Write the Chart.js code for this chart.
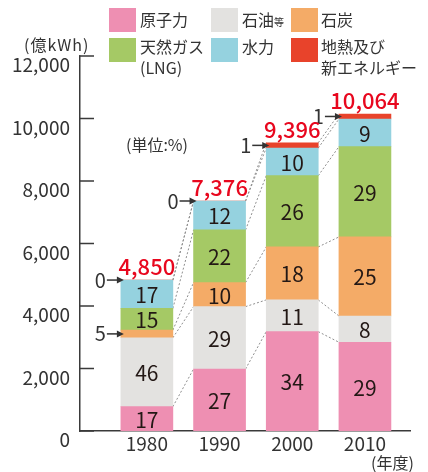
<!DOCTYPE html>
<html lang="ja">
<head>
<meta charset="UTF-8">
<title>発電電力量の推移</title>
<script src="https://cdn.jsdelivr.net/npm/chart.js"></script>
<style>
  body { margin: 0; background: #fff; font-family: "Noto Sans CJK JP", "Noto Sans", sans-serif; color: #333; }
  .wrap { position: relative; width: 428px; height: 472px; }
  .box { position: absolute; width: 27px; height: 24px; }
  .txt { position: absolute; font-size: 16px; line-height: 21px; white-space: nowrap; color: #333; }
  .small { font-size: 10px; }
</style>
</head>
<body>
<div class="wrap">
  <canvas id="chart" width="428" height="472"></canvas>

  <div class="box" style="left:109px; top:8px; background:#ee8fb2;"></div>
  <div class="txt" style="left:140px; top:9px;">原子力</div>
  <div class="box" style="left:211px; top:8px; background:#e3e2e0;"></div>
  <div class="txt" style="left:242px; top:9px;">石油<span class="small">等</span></div>
  <div class="box" style="left:291px; top:8px; background:#f4ab67;"></div>
  <div class="txt" style="left:321px; top:9px;">石炭</div>

  <div class="box" style="left:109px; top:38px; background:#a5c965;"></div>
  <div class="txt" style="left:140px; top:36px;">天然ガス<br>(LNG)</div>
  <div class="box" style="left:211px; top:38px; background:#95d2df;"></div>
  <div class="txt" style="left:242px; top:36px;">水力</div>
  <div class="box" style="left:291px; top:38px; background:#e8432b;"></div>
  <div class="txt" style="left:321px; top:36px;">地熱及び<br>新エネルギー</div>

  <div class="txt" style="left:24px; top:34px; letter-spacing:1px;">(億kWh)</div>
  <div class="txt" style="left:126px; top:134px;">(単位:%)</div>
  <div class="txt" style="left:371px; top:452px;">(年度)</div>
</div>

<script>
    // 年度と合計 (億kWh)
    const years = ['1980', '1990', '2000', '2010'];
    const totals = [4850, 7376, 9396, 10064];

    // 棒の高さ (億kWh, 図から読み取り)
    const nuclear = [780, 1985, 3180, 2840];
    const oil = [2205, 1995, 1015, 840];
    const coal = [245, 770, 1695, 2530];
    const lng = [695, 1685, 2280, 2890];
    const hydro = [905, 925, 885, 885];
    const geo = [0, 0, 170, 160];

    // 構成比 (%)
    const nuclearPct = [17, 27, 34, 29];
    const oilPct = [46, 29, 11, 8];
    const coalPct = [5, 10, 18, 25];
    const lngPct = [15, 22, 26, 29];
    const hydroPct = [17, 12, 10, 9];
    const geoPct = [0, 0, 1, 1];

    const yTicks = [0, 2000, 4000, 6000, 8000, 10000, 12000];

    const FONT = '"Noto Sans CJK JP", "Noto Sans", sans-serif';
    const AXIS = '#3a3a3a';
    Chart.defaults.font.family = FONT;
    Chart.defaults.color = '#333';

    const series = [
        { label: '原子力', data: nuclear, pct: nuclearPct, color: '#ee8fb2' },
        { label: '石油等', data: oil, pct: oilPct, color: '#e3e2e0' },
        { label: '石炭', data: coal, pct: coalPct, color: '#f4ab67' },
        { label: '天然ガス(LNG)', data: lng, pct: lngPct, color: '#a5c965' },
        { label: '水力', data: hydro, pct: hydroPct, color: '#95d2df' },
        { label: '地熱及び新エネルギー', data: geo, pct: geoPct, color: '#e8432b' }
    ];

    function arrow(ctx, x0, x1, y) {
        ctx.fillRect(x0, y - 0.75, x1 - x0 - 5, 1.5);
        ctx.beginPath();
        ctx.moveTo(x1, y);
        ctx.lineTo(x1 - 7, y - 3.5);
        ctx.lineTo(x1 - 7, y + 3.5);
        ctx.closePath();
        ctx.fill();
    }

    const annotate = {
        id: 'annotate',
        beforeDatasetsDraw(chart) {
            // 点線のつなぎ線
            const ctx = chart.ctx;
            ctx.save();
            ctx.strokeStyle = '#8e8e8e';
            ctx.lineWidth = 1;
            ctx.setLineDash([2, 2]);
            chart.data.datasets.forEach((ds, k) => {
                const bars = chart.getDatasetMeta(k).data;
                for (let i = 0; i < bars.length - 1; i++) {
                    const a = bars[i], b = bars[i + 1];
                    ctx.beginPath();
                    ctx.moveTo(a.x + a.width / 2, a.y);
                    ctx.lineTo(b.x - b.width / 2, b.y);
                    ctx.stroke();
                }
            });
            ctx.setLineDash([]);
            ctx.restore();
        },
        afterDatasetsDraw(chart) {
            const ctx = chart.ctx;
            ctx.save();
            ctx.textBaseline = 'middle';
            chart.data.datasets.forEach((ds, k) => {
                const bars = chart.getDatasetMeta(k).data;
                bars.forEach((bar, i) => {
                    const h = bar.base - bar.y;
                    const cy = (bar.y + bar.base) / 2;
                    const pct = series[k].pct[i];
                    if (h >= 14) {
                        ctx.fillStyle = '#231815';
                        ctx.font = '21px ' + FONT;
                        ctx.textAlign = 'center';
                        ctx.fillText(pct, bar.x, cy + 1);
                    } else {
                        // 細い区分は矢印で
                        const left = bar.x - bar.width / 2;
                        ctx.fillStyle = '#333';
                        arrow(ctx, left - 14, left + 3, cy);
                        ctx.font = '20px ' + FONT;
                        ctx.textAlign = 'right';
                        ctx.fillText(pct, left - 15, cy);
                    }
                });
            });

            // 合計
            const top = chart.getDatasetMeta(chart.data.datasets.length - 1).data;
            ctx.fillStyle = '#e8071e';
            ctx.font = '500 22px ' + FONT;
            ctx.textAlign = 'center';
            ctx.textBaseline = 'alphabetic';
            top.forEach((bar, i) => {
                ctx.fillText(totals[i].toLocaleString('en-US'), bar.x, bar.y - 5);
            });
            ctx.restore();
        },
        afterDraw(chart) {
            // 縦軸と内向きの目盛り
            const ctx = chart.ctx;
            const y = chart.scales.y;
            const area = chart.chartArea;
            ctx.save();
            ctx.fillStyle = AXIS;
            ctx.fillRect(area.left - 1, area.top - 0.75, 1.5, area.bottom - area.top + 1.5);
            y.ticks.forEach(t => {
                const py = y.getPixelForValue(t.value);
                ctx.fillRect(area.left - 1, py - 0.75, 15, 1.5);
            });
            ctx.restore();
        }
    };

    const ctx = document.getElementById('chart').getContext('2d');

    const chart = new Chart(ctx, {
        type: 'bar',
        data: {
            datasets: series.map(s => ({
                label: s.label,
                data: s.data.map((v, i) => ({ x: i, y: v })),
                backgroundColor: s.color,
                borderWidth: 0,
                barThickness: 52
            }))
        },
        options: {
            responsive: false,
            animation: false,
            devicePixelRatio: 1,
            layout: {
                padding: { top: 56, right: 18, left: 0, bottom: 0 }
            },
            scales: {
                x: {
                    type: 'linear',
                    offset: false,
                    stacked: true,
                    min: -0.92,
                    max: 3.62,
                    afterBuildTicks: scale => {
                        scale.ticks = years.map((yr, i) => ({ value: i }));
                    },
                    afterFit: scale => { scale.height = 41; },
                    grid: { display: false, drawTicks: false },
                    border: { display: true, color: AXIS, width: 1.5 },
                    ticks: {
                        padding: 1,
                        color: '#333',
                        font: { size: 19 },
                        callback: v => years[v]
                    }
                },
                y: {
                    stacked: true,
                    min: 0,
                    max: 12000,
                    afterBuildTicks: scale => {
                        scale.ticks = yTicks.map(v => ({ value: v }));
                    },
                    afterFit: scale => { scale.width = 80; },
                    grid: { display: false, drawTicks: false },
                    border: { display: false },
                    ticks: {
                        padding: 10,
                        labelOffset: 9,
                        color: '#333',
                        font: { size: 19 },
                        callback: v => v.toLocaleString('en-US')
                    }
                }
            },
            plugins: {
                legend: { display: false },
                tooltip: { enabled: false }
            }
        },
        plugins: [annotate]
    });
</script>
</body>
</html>
